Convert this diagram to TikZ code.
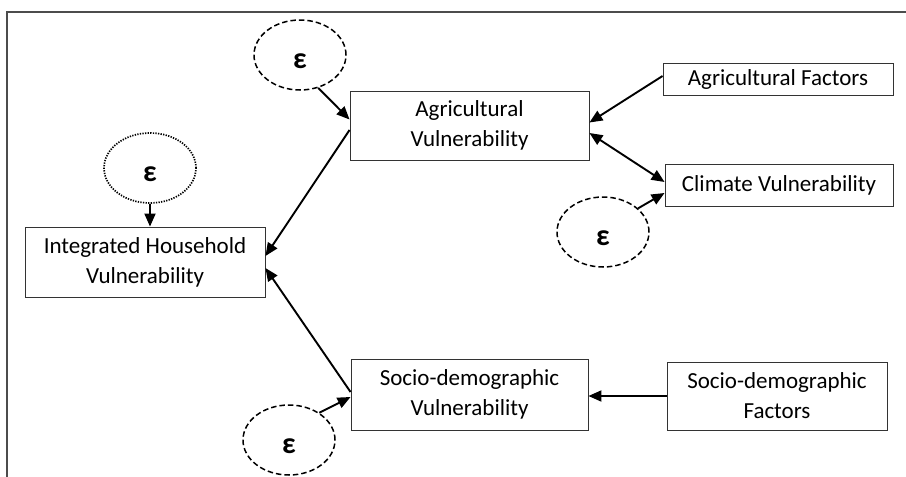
\documentclass[tikz,border=0pt]{standalone}
\usepackage{fontspec}
\setmainfont{Carlito}
\usetikzlibrary{shapes.geometric,arrows.meta,calc}
\tikzset{
  box/.style={draw=black!80, line width=0.9pt, rectangle, align=center, inner sep=0pt,
    font=\fontsize{23}{30}\selectfont},
  errdash/.style={draw=black, line width=1.5pt, ellipse, dash pattern=on 5.5pt off 3pt,
    minimum width=92pt, minimum height=70pt, inner sep=0pt},
  errdot/.style={draw=black, line width=1.7pt, ellipse, dash pattern=on 1.3pt off 1.3pt,
    minimum width=92pt, minimum height=70pt, inner sep=0pt},
  eps/.style={font=\fontsize{30}{32}\selectfont\bfseries, inner sep=0pt},
  arr/.style={line width=1.9pt, -{Triangle[length=13pt,width=11pt]}},
  darr/.style={line width=1.9pt, {Triangle[length=13pt,width=11pt]}-{Triangle[length=13pt,width=11pt]}},
}
\begin{document}
\begin{tikzpicture}[x=1pt,y=-1pt]
\useasboundingbox (0,0) rectangle (906,477);
% frame
\draw[line width=1.3pt, black!70] (7,477) -- (7,12) -- (906,12);

% boxes
\node[box, minimum width=230pt, minimum height=32pt] (agf) at (778,79) {Agricultural Factors};
\node[box, minimum width=239pt, minimum height=69pt] (agv) at (469.5,125.5) {Agricultural\\Vulnerability};
\node[box, minimum width=228pt, minimum height=42pt] (cv) at (779,185) {Climate Vulnerability};
\node[box, minimum width=240pt, minimum height=70pt] (ihv) at (145,262) {Integrated Household\\Vulnerability};
\node[box, minimum width=237pt, minimum height=71pt] (sdv) at (469.5,394.5) {Socio-demographic\\Vulnerability};
\node[box, minimum width=220pt, minimum height=68pt] (sdf) at (777,396) {Socio-demographic\\Factors};

% error terms
\node[errdash] (e1) at (300,55) {};
\node[eps] (t1) at ($(e1.center)+(0,6)$) {ε};
\node[errdot] (e2) at (150,168) {};
\node[eps] (t2) at ($(e2.center)+(0,6)$) {ε};
\node[errdash] (e3) at (603,232) {};
\node[eps] (t3) at ($(e3.center)+(0,6)$) {ε};
\node[errdash] (e4) at (289,440) {};
\node[eps] (t4) at ($(e4.center)+(0,6)$) {ε};

% connectors
\draw[arr] (e1.-61) -- ($(agv.west)+(0,-6)$);
\draw[arr] ($(agf.west)+(0,-3)$) -- ($(agv.east)+(0,-3)$);
\draw[darr] ($(agv.east)+(0,7.5)$) -- ($(cv.west)+(0,-3)$);
\draw[arr] (e3.34) -- ($(cv.west)+(0,8)$);
\draw[arr] (e2.south) -- (e2.south |- ihv.north);
\draw[arr] ($(agv.west)+(0,4.5)$) -- ($(ihv.east)+(0,-6)$);
\draw[arr] ($(sdv.west)+(0,-2.5)$) -- ($(ihv.east)+(0,6)$);
\draw[arr] (e4.42) -- ($(sdv.west)+(0,2.5)$);
\draw[arr] (sdf.west) -- (sdv.east |- sdf.west);
\end{tikzpicture}
\end{document}
